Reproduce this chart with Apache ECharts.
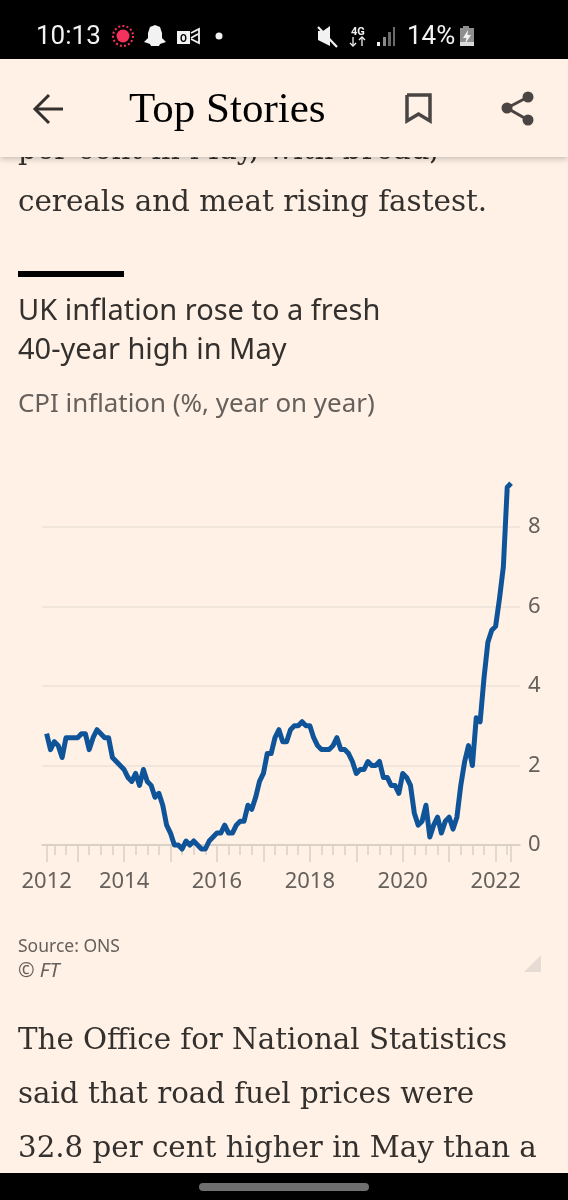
<!DOCTYPE html>
<html>
<head>
<meta charset="utf-8">
<title>UK inflation</title>
<style>
  html, body { margin: 0; padding: 0; background: #fff1e5; }
  #chart { width: 568px; height: 1200px; }
</style>
<script src="https://cdn.jsdelivr.net/npm/echarts@6/dist/echarts.min.js"></script>
</head>
<body>
<div id="chart"></div>
<script>
// CPI, % year on year, monthly from May 2012 to May 2022
var cpiValues = [
  2.8, 2.4, 2.6, 2.5, 2.2, 2.7, 2.7, 2.7,
  2.7, 2.8, 2.8, 2.4, 2.7, 2.9, 2.8, 2.7, 2.7, 2.2, 2.1, 2.0,
  1.9, 1.7, 1.6, 1.8, 1.5, 1.9, 1.6, 1.5, 1.2, 1.3, 1.0, 0.5,
  0.3, 0.0, 0.0, -0.1, 0.1, 0.0, 0.1, 0.0, -0.1, -0.1, 0.1, 0.2,
  0.3, 0.3, 0.5, 0.3, 0.3, 0.5, 0.6, 0.6, 1.0, 0.9, 1.2, 1.6,
  1.8, 2.3, 2.3, 2.7, 2.9, 2.6, 2.6, 2.9, 3.0, 3.0, 3.1, 3.0,
  3.0, 2.7, 2.5, 2.4, 2.4, 2.4, 2.5, 2.7, 2.4, 2.4, 2.3, 2.1,
  1.8, 1.9, 1.9, 2.1, 2.0, 2.0, 2.1, 1.7, 1.7, 1.5, 1.5, 1.3,
  1.8, 1.7, 1.5, 0.8, 0.5, 0.6, 1.0, 0.2, 0.5, 0.7, 0.3, 0.6,
  0.7, 0.4, 0.7, 1.5, 2.1, 2.5, 2.0, 3.2, 3.1, 4.2, 5.1, 5.4,
  5.5, 6.2, 7.0, 9.0, 9.1
];
// positions on the axis are months since May 2012
var yearLabels = ['2012', '2014', '2016', '2018', '2020', '2022'];
var yearLabelMonths = [0, 20, 44, 68, 92, 116];
var majorTickMonths = [0, 8, 20, 32, 44, 56, 68, 80, 92, 104, 116, 120];
var minorTickMonths = [];
for (var m = 2; m < 120; m += 3) minorTickMonths.push(m);
var yTickValues = [0, 2, 4, 6, 8];

var PAPER = '#fff1e5', BLUE = '#0f5499', GREY = '#66605c', BODY = '#33302e', ICON = '#4a4542', WHITE = '#f2f2f2';
var SERIF = '"DejaVu Serif"', SANS = '"Noto Sans"';

// y is the baseline, text is drawn from its top
function label(text, x, y, size, family, fill, z, style) {
  return { type: 'text', z: z || 5, style: { text: text, x: x, y: y - size * 0.79, font: (style || '') + ' ' + size + 'px ' + family, fill: fill } };
}
function box(x, y, w, h, fill, z) {
  return { type: 'rect', z: z || 5, shape: { x: x, y: y, width: w, height: h }, style: { fill: fill } };
}
function dot(x, y, r, fill, z) {
  return { type: 'circle', z: z || 12, shape: { cx: x, cy: y, r: r }, style: { fill: fill } };
}
function shape(points, fill, z) {
  return { type: 'polygon', z: z || 12, shape: { points: points }, style: { fill: fill } };
}
function stroke(points, color, width, z) {
  return { type: 'polyline', z: z || 12, shape: { points: points }, style: { stroke: color, fill: null, lineWidth: width } };
}

var chrome = [
  // article text scrolled under the nav bar
  label('per cent in May, with bread,', 18, 160, 29.4, SERIF, BODY, 3),
  label('cereals and meat rising fastest.', 18, 212, 29.4, SERIF, BODY),
  box(18, 271, 106, 6, '#000000'),
  label('UK inflation rose to a fresh', 18, 320, 29, SANS, BODY),
  label('40-year high in May', 18, 359, 29, SANS, BODY),
  label('CPI inflation (%, year on year)', 18, 412, 25.9, SANS, GREY),
  label('Source: ONS', 18, 952, 17.5, SANS, GREY),
  label('\u00a9 FT', 18, 977, 20, SANS, GREY, 5, 'italic'),
  shape([[524, 972], [541, 955], [541, 972]], '#e6dcd3', 5),
  label('The Office for National Statistics', 18, 1050, 29.3, SERIF, BODY),
  label('said that road fuel prices were', 18, 1104, 29.3, SERIF, BODY),
  label('32.8 per cent higher in May than a', 18, 1158, 29.3, SERIF, BODY),

  // nav bar
  { type: 'rect', z: 10, shape: { x: 0, y: 59, width: 568, height: 98 }, style: { fill: PAPER, shadowBlur: 6, shadowColor: 'rgba(0,0,0,0.22)', shadowOffsetY: 2 } },
  label('Top Stories', 129, 123, 43, '"Liberation Serif"', '#000000', 12),
  stroke([[63, 109], [36, 109]], BODY, 3),
  stroke([[49, 95], [35, 109], [49, 123]], BODY, 3),
  stroke([[407, 95], [430, 95], [430, 121], [418.5, 114], [407, 121], [407, 95]], ICON, 3.5),
  stroke([[528, 97], [507, 108], [528, 120]], ICON, 3),
  dot(528, 97, 5.5, ICON), dot(507, 108, 5.5, ICON), dot(528, 120, 5.5, ICON),

  // status bar
  box(0, 0, 568, 59, '#000000', 11),
  label('10:13', 36, 45, 26, 'Roboto', WHITE, 12),
  dot(123, 36, 6.5, '#f5325b'),
  { type: 'circle', z: 12, shape: { cx: 123, cy: 36, r: 10 }, style: { fill: null, stroke: '#f5325b', lineWidth: 2, lineDash: [2, 2.2] } },
  shape([[155, 25], [150, 27], [148, 33], [148, 38], [144, 42], [150, 44], [151, 46], [159, 46], [160, 44], [166, 42], [162, 38], [162, 33], [160, 27]], WHITE),
  box(177, 31, 13, 13, WHITE, 12),
  label('O', 180, 42, 10, 'Roboto', '#000000', 13, 'bold'),
  stroke([[191, 33], [199, 29], [199, 43], [191, 39]], WHITE, 1.8),
  stroke([[191, 38], [198, 34]], WHITE, 1.8),
  dot(219, 36, 3.5, WHITE),
  shape([[318, 31], [323, 31], [330, 26], [330, 46], [318, 40]], WHITE),
  stroke([[318, 27], [337, 47]], WHITE, 2.2),
  label('4G', 351, 35, 11, 'Roboto', WHITE, 12, 'bold'),
  stroke([[353, 37], [353, 46]], WHITE, 1.3), stroke([[350, 43], [353, 46], [356, 43]], WHITE, 1.3),
  stroke([[362, 46], [362, 37]], WHITE, 1.3), stroke([[359, 40], [362, 37], [365, 40]], WHITE, 1.3),
  box(377, 42, 3, 4, WHITE, 12), box(383, 37, 3, 9, '#8a8a8a', 12),
  box(388, 32, 3, 14, '#6a6a6a', 12), box(393, 27, 2, 19, '#6a6a6a', 12),
  label('14%', 407, 45, 26, 'Roboto', WHITE, 12),
  box(463, 26, 6, 3, '#8f8f8f', 12), box(460, 28, 14, 18, '#8f8f8f', 12),
  box(460, 42, 14, 4, '#d9d9d9', 12),
  shape([[468, 30], [463, 38], [466.5, 38], [465, 44], [471, 35], [467.5, 35]], WHITE, 13),

  // gesture bar
  box(0, 1173, 568, 27, '#000000', 11),
  { type: 'rect', z: 12, shape: { x: 199, y: 1183, width: 170, height: 8, r: 4 }, style: { fill: '#6f6f6f' } }
];

var chart = echarts.init(document.getElementById('chart'));
var xMin = -1.2, xMax = 122.3;

chart.setOption({
  animation: false,
  backgroundColor: PAPER,
  graphic: chrome,
  grid: { left: 42, top: 447.5, width: 478, height: 397.5 },
  xAxis: [
    {
      type: 'value', min: xMin, max: xMax,
      splitLine: { show: false },
      axisLine: { show: true, onZero: false, lineStyle: { color: '#cfc5bb', width: 1.5 } },
      axisTick: { show: true, length: 17, customValues: majorTickMonths, lineStyle: { color: '#d9cfc5', width: 1.5 } },
      axisLabel: {
        show: true, margin: 26, fontSize: 22, fontFamily: SANS, color: GREY,
        customValues: yearLabelMonths,
        formatter: function (v) { return yearLabels[yearLabelMonths.indexOf(v)]; }
      }
    },
    {
      type: 'value', min: xMin, max: xMax, position: 'bottom',
      splitLine: { show: false },
      axisLine: { show: false },
      axisTick: { show: true, length: 10, customValues: minorTickMonths, lineStyle: { color: '#d9cfc5', width: 1.5 } },
      axisLabel: { show: false, customValues: minorTickMonths }
    }
  ],
  yAxis: {
    type: 'value', min: 0, max: 10, interval: 2, position: 'right',
    axisLine: { show: false },
    axisTick: { show: false },
    splitLine: { show: true, showMinLine: false, showMaxLine: false, lineStyle: { color: '#ebe2d9', width: 1.5 } },
    axisLabel: {
      margin: 8, fontSize: 22, fontFamily: SANS, color: GREY, showMaxLabel: false, padding: [3, 0, 0, 0],
      formatter: function (v) { return yTickValues.indexOf(v) >= 0 ? String(v) : ''; }
    }
  },
  series: [{
    type: 'line',
    xAxisIndex: 0,
    data: cpiValues.map(function (v, i) { return [i, v]; }),
    showSymbol: false,
    clip: false,
    z: 4,
    lineStyle: { color: BLUE, width: 5, join: 'round', cap: 'butt' }
  }]
});
</script>
</body>
</html>
